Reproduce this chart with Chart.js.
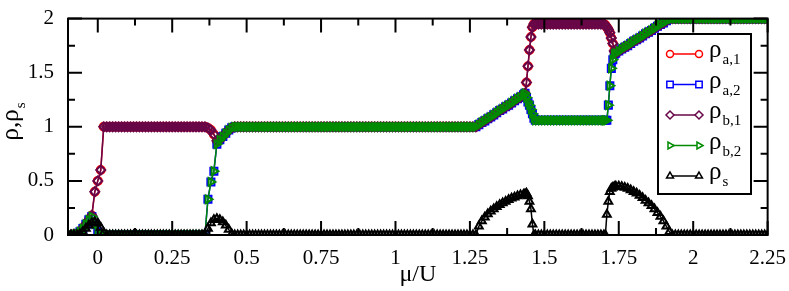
<!DOCTYPE html>
<html>
<head>
<meta charset="utf-8">
<script src="https://cdn.jsdelivr.net/npm/chart.js@4.4.0/dist/chart.umd.min.js"></script>
<style>
  html, body { margin: 0; padding: 0; background: #fff; }
  #wrap { width: 789px; height: 291px; position: relative; }
  #err { position: absolute; left: 100px; top: 60px; font: 12px monospace; color: #c00; }
  #probe { position: absolute; left: 0; top: 300px; font-family: "Liberation Serif"; font-size: 21px; }
</style>
</head>
<body>
<div id="wrap"><canvas id="rhoChart"></canvas><div id="err"></div></div>
<div id="probe">ρ,ρs μ/U 0.25 a,1</div>
<script>
// mu/U grid (finer steps at the jumps)
const mu = [
  -0.10,-0.09,-0.08,-0.07,-0.06,-0.05,-0.04,-0.03,-0.02,-0.01,0,0.01,0.02,
  0.03,0.04,0.05,0.06,0.07,0.08,0.09,0.10,0.11,0.12,0.13,0.14,0.15,0.16,0.17,0.18,0.19,0.20,0.21,0.22,0.23,0.24,0.25,0.26,0.27,0.28,0.29,0.30,0.31,0.32,0.33,0.34,0.35,
  0.36,0.37,0.38,0.39,0.40,0.41,0.42,0.43,0.44,0.45,0.46,
  0.47,0.48,0.49,0.50,0.51,0.52,0.53,0.54,0.55,0.56,
  0.57,0.58,0.59,0.60,0.61,0.62,0.63,0.64,0.65,0.66,
  0.67,0.68,0.69,0.70,0.71,0.72,0.73,0.74,0.75,0.76,
  0.77,0.78,0.79,0.80,0.81,0.82,0.83,0.84,0.85,0.86,
  0.87,0.88,0.89,0.90,0.91,0.92,0.93,0.94,0.95,0.96,
  0.97,0.98,0.99,1.00,1.01,1.02,1.03,1.04,1.05,1.06,
  1.07,1.08,1.09,1.10,1.11,1.12,1.13,1.14,1.15,1.16,
  1.17,1.18,1.19,1.20,1.21,1.22,1.23,1.24,1.25,1.26,
  1.27,1.28,1.29,1.30,1.31,1.32,1.33,1.34,1.35,1.36,1.37,1.38,1.39,1.40,1.41,1.42,1.43,
  1.435,1.44,1.445,1.45,1.455,1.46,1.465,1.47,
  1.48,1.49,1.50,1.51,1.52,1.53,1.54,1.55,1.56,1.57,1.58,1.59,1.60,1.61,1.62,1.63,1.64,1.65,1.66,1.67,1.68,1.69,1.70,
  1.705,1.71,1.715,1.72,1.725,1.73,1.735,1.74,
  1.75,1.76,1.77,1.78,1.79,1.80,1.81,1.82,1.83,1.84,1.85,1.86,1.87,1.88,1.89,1.90,1.91,1.92,
  1.93,1.94,1.95,1.96,1.97,1.98,1.99,2.00,2.01,2.02,2.03,2.04,2.05,2.06,2.07,2.08,2.09,2.10,2.11,2.12,2.13,2.14,2.15,2.16,2.17,2.18,2.19,2.20,2.21,2.22,2.23,2.24,2.25
];

const rhoA1 = [
  0,0,0.005,0.01,0.03,0.06,0.10,0.14,0.18,0.40,0.50,0.60,1.0,
  1,1,1,1,1,1,1,1,1,1,1,1,1,1,1,1,1,1,1,1,1,1,1,1,1,1,1,1,1,1,1,1,1,
  1.0,0.99,0.97,0.93,0.87,0.88,0.91,0.94,0.97,0.99,1.0,
  1,1,1,1,1,1,1,1,1,1,
  1,1,1,1,1,1,1,1,1,1,
  1,1,1,1,1,1,1,1,1,1,
  1,1,1,1,1,1,1,1,1,1,
  1,1,1,1,1,1,1,1,1,1,
  1,1,1,1,1,1,1,1,1,1,
  1,1,1,1,1,1,1,1,1,1,
  1,1,1,1,1,1,1,1,1,1,
  1.0,1.02,1.04,1.055,1.075,1.09,1.11,1.13,1.15,1.165,1.185,1.20,1.22,1.24,1.26,1.275,1.295,
  1.31,1.41,1.56,1.71,1.83,1.92,1.95,1.95,
  1.95,1.95,1.95,1.95,1.95,1.95,1.95,1.95,1.95,1.95,1.95,1.95,1.95,1.95,1.95,1.95,1.95,1.95,1.95,1.95,1.95,1.95,1.95,
  1.94,1.92,1.90,1.87,1.82,1.77,1.70,1.68,
  1.70,1.72,1.735,1.75,1.77,1.79,1.805,1.82,1.84,1.86,1.875,1.89,1.91,1.93,1.945,1.96,1.98,2.0,
  2,2,2,2,2,2,2,2,2,2,2,2,2,2,2,2,2,2,2,2,2,2,2,2,2,2,2,2,2,2,2,2,2
];

const rhoA2 = [
  0,0,0.005,0.01,0.03,0.06,0.10,0.14,0.17,0.10,0.03,0,0,
  0,0,0,0,0,0,0,0,0,0,0,0,0,0,0,0,0,0,0,0,0,0,0,0,0,0,0,0,0,0,0,0,0,
  0,0.33,0.49,0.59,0.84,0.88,0.91,0.94,0.97,0.99,1.0,
  1,1,1,1,1,1,1,1,1,1,
  1,1,1,1,1,1,1,1,1,1,
  1,1,1,1,1,1,1,1,1,1,
  1,1,1,1,1,1,1,1,1,1,
  1,1,1,1,1,1,1,1,1,1,
  1,1,1,1,1,1,1,1,1,1,
  1,1,1,1,1,1,1,1,1,1,
  1,1,1,1,1,1,1,1,1,1,
  1.0,1.02,1.04,1.055,1.075,1.09,1.11,1.13,1.15,1.165,1.185,1.20,1.22,1.24,1.26,1.275,1.295,
  1.31,1.27,1.23,1.20,1.16,1.12,1.08,1.06,
  1.06,1.06,1.06,1.06,1.06,1.06,1.06,1.06,1.06,1.06,1.06,1.06,1.06,1.06,1.06,1.06,1.06,1.06,1.06,1.06,1.06,1.06,1.06,
  1.06,1.06,1.20,1.38,1.54,1.62,1.67,1.68,
  1.70,1.72,1.735,1.75,1.77,1.79,1.805,1.82,1.84,1.86,1.875,1.89,1.91,1.93,1.945,1.96,1.98,2.0,
  2,2,2,2,2,2,2,2,2,2,2,2,2,2,2,2,2,2,2,2,2,2,2,2,2,2,2,2,2,2,2,2,2
];

// the b-species lie on top of the a-species
const rhoB1 = rhoA1.slice();
const rhoB2 = rhoA2.slice();

const rhoS = [
  0,0,0,0,0.01,0.03,0.06,0.09,0.11,0.12,0.11,0.07,0.02,
  0,0,0,0,0,0,0,0,0,0,0,0,0,0,0,0,0,0,0,0,0,0,0,0,0,0,0,0,0,0,0,0,0,
  0,0.06,0.11,0.14,0.15,0.14,0.12,0.09,0.05,0.01,0,
  0,0,0,0,0,0,0,0,0,0,
  0,0,0,0,0,0,0,0,0,0,
  0,0,0,0,0,0,0,0,0,0,
  0,0,0,0,0,0,0,0,0,0,
  0,0,0,0,0,0,0,0,0,0,
  0,0,0,0,0,0,0,0,0,0,
  0,0,0,0,0,0,0,0,0,0,
  0,0,0,0,0,0,0,0,0,0,
  0,0.08,0.13,0.165,0.195,0.22,0.24,0.26,0.28,0.295,0.31,0.325,0.34,0.35,0.36,0.37,0.375,
  0.38,0.385,0.36,0.31,0.24,0.10,0,0,
  0,0,0,0,0,0,0,0,0,0,0,0,0,0,0,0,0,0,0,0,0,0,0,
  0,0.19,0.31,0.40,0.43,0.44,0.445,0.45,
  0.45,0.445,0.44,0.43,0.415,0.40,0.385,0.365,0.345,0.32,0.295,0.27,0.24,0.205,0.17,0.13,0.08,0.03,
  0,0,0,0,0,0,0,0,0,0,0,0,0,0,0,0,0,0,0,0,0,0,0,0,0,0,0,0,0,0,0,0,0
];

const xTicks = [0, 0.25, 0.5, 0.75, 1, 1.25, 1.5, 1.75, 2, 2.25];
const xMinor = [0.125, 0.375, 0.625, 0.875, 1.125, 1.375, 1.625, 1.875, 2.125];
const yTicks = [0, 0.5, 1, 1.5, 2];
const yMinor = [0.25, 0.75, 1.25, 1.75];

const legendLabels = ['a,1', 'a,2', 'b,1', 'b,2', 's'];

const SERIF = '"Liberation Serif", "Times New Roman", serif';

function series(vals) {
  return mu.map((m, i) => ({ x: m, y: vals[i] }));
}

const styles = [
  { color: 'rgb(255,0,0)', shape: 'circle', r: 4, rot: 0 },
  { color: 'rgb(0,0,255)', shape: 'rect', r: 5, rot: 0 },
  { color: 'rgb(103,7,72)', shape: 'rectRot', r: 4.5, rot: 0 },
  { color: 'rgb(0,139,0)', shape: 'triangle', r: 4.5, rot: 90 },
  { color: 'rgb(0,0,0)', shape: 'triangle', r: 4.5, rot: 0 }
];
const allSeries = [rhoA1, rhoA2, rhoB1, rhoB2, rhoS];

const datasets = allSeries.map((vals, k) => ({
  data: series(vals),
  borderColor: styles[k].color,
  borderWidth: 1.5,
  pointStyle: styles[k].shape,
  pointRadius: styles[k].r,
  pointRotation: styles[k].rot,
  pointBorderColor: styles[k].color,
  pointBackgroundColor: 'rgba(0,0,0,0)',
  pointBorderWidth: 2,
  tension: 0,
  order: 5 - k
}));

function marker(ctx, st, x, y) {
  const r = st.r - 0.5;
  ctx.beginPath();
  if (st.shape === 'circle') {
    ctx.arc(x, y, r, 0, Math.PI * 2);
  } else if (st.shape === 'rect') {
    const s = r * Math.SQRT1_2;
    ctx.rect(x - s, y - s, 2 * s, 2 * s);
  } else if (st.shape === 'rectRot') {
    ctx.moveTo(x - r, y); ctx.lineTo(x, y - r); ctx.lineTo(x + r, y); ctx.lineTo(x, y + r); ctx.closePath();
  } else {
    const a0 = (st.rot - 90) * Math.PI / 180;
    for (let i = 0; i < 3; i++) {
      const a = a0 + i * 2 * Math.PI / 3;
      const px = x + r * Math.cos(a), py = y + r * Math.sin(a);
      if (i === 0) ctx.moveTo(px, py); else ctx.lineTo(px, py);
    }
    ctx.closePath();
  }
  ctx.fillStyle = '#fff';
  ctx.fill();
  ctx.stroke();
}

function drawDecorations(chart) {
  const ctx = chart.ctx;
  const a = chart.chartArea;
  const x = chart.scales.x, y = chart.scales.y;
  ctx.save();
  ctx.strokeStyle = '#000';
  ctx.lineWidth = 2;
  ctx.strokeRect(a.left, a.top, a.right - a.left, a.bottom - a.top);

  ctx.beginPath();
  const tx = (v, len) => {
    const p = x.getPixelForValue(v);
    ctx.moveTo(p, a.bottom); ctx.lineTo(p, a.bottom - len);
    ctx.moveTo(p, a.top); ctx.lineTo(p, a.top + len);
  };
  const ty = (v, len) => {
    const p = y.getPixelForValue(v);
    ctx.moveTo(a.left, p); ctx.lineTo(a.left + len, p);
    ctx.moveTo(a.right, p); ctx.lineTo(a.right - len, p);
  };
  xTicks.forEach(v => tx(v, 14));
  xMinor.forEach(v => tx(v, 7));
  yTicks.forEach(v => ty(v, 14));
  yMinor.forEach(v => ty(v, 7));
  ctx.stroke();

  // legend
  const bx = 658, by = 34, bw = 93, bh = 160;
  ctx.fillStyle = '#fff';
  ctx.fillRect(bx, by, bw, bh);
  ctx.strokeRect(bx, by, bw, bh);
  legendLabels.forEach((lab, k) => {
    const st = styles[k];
    const ry = 54 + k * 30.5;
    ctx.strokeStyle = st.color;
    ctx.lineWidth = 1.5;
    ctx.beginPath();
    ctx.moveTo(670, ry); ctx.lineTo(699, ry);
    ctx.stroke();
    marker(ctx, st, 670, ry);
    marker(ctx, st, 699, ry);
    ctx.fillStyle = '#000';
    ctx.textBaseline = 'alphabetic';
    ctx.textAlign = 'left';
    ctx.font = '25px ' + SERIF;
    ctx.fillText('ρ', 709, ry + 3);
    const w = ctx.measureText('ρ').width;
    ctx.font = '15px ' + SERIF;
    ctx.fillText(lab, 709 + w + 1, ry + 10);
  });

  // y-axis title with subscript
  ctx.translate(18, 122);
  ctx.rotate(-Math.PI / 2);
  ctx.fillStyle = '#000';
  ctx.textAlign = 'left';
  ctx.textBaseline = 'alphabetic';
  ctx.font = '25px ' + SERIF;
  const mw = ctx.measureText('ρ,ρ').width;
  ctx.font = '15px ' + SERIF;
  const sw = ctx.measureText('s').width;
  const x0 = -(mw + sw) / 2;
  ctx.font = '25px ' + SERIF;
  ctx.fillText('ρ,ρ', x0, 0);
  ctx.font = '15px ' + SERIF;
  ctx.fillText('s', x0 + mw + 1, 7);
  ctx.restore();
}

const decorations = {
  id: 'decorations',
  afterDraw(chart) {
    try {
      drawDecorations(chart);
    } catch (e) {
      document.getElementById('err').textContent = String(e);
    }
  }
};

function drawChart() {
  try {
    new Chart(document.getElementById('rhoChart'), {
      type: 'line',
      data: { datasets },
      options: {
        responsive: true,
        maintainAspectRatio: false,
        animation: false,
        devicePixelRatio: 1,
        layout: { padding: { top: 10, right: 21, left: 0, bottom: 0 } },
        plugins: { legend: { display: false }, tooltip: { enabled: false } },
        scales: {
          x: {
            type: 'linear',
            min: -0.1,
            max: 2.25,
            afterBuildTicks: s => { s.ticks = xTicks.map(v => ({ value: v })); },
            afterFit: s => { s.height = 56; },
            grid: { display: false },
            border: { display: false },
            ticks: {
              autoSkip: false,
              maxRotation: 0,
              padding: 3,
              color: '#000',
              font: { family: SERIF, size: 21 },
              callback: v => String(v)
            },
            title: {
              display: true,
              text: 'μ/U',
              color: '#000',
              font: { family: SERIF, size: 24 },
              padding: { top: 0, bottom: 2 }
            }
          },
          y: {
            min: 0,
            max: 2,
            afterBuildTicks: s => { s.ticks = yTicks.map(v => ({ value: v })); },
            afterFit: s => { s.width = 68; },
            grid: { display: false },
            border: { display: false },
            ticks: {
              padding: 6,
              color: '#000',
              font: { family: SERIF, size: 21 },
              callback: v => String(v)
            }
          }
        }
      },
      plugins: [decorations]
    });
  } catch (e) {
    document.getElementById('err').textContent = String(e);
  }
}

const fontsReady = document.fonts
  ? Promise.all([
      document.fonts.load('21px "Liberation Serif"', '0.25'),
      document.fonts.load('25px "Liberation Serif"', 'ρμ')
    ]).then(() => document.fonts.ready)
  : Promise.resolve();
fontsReady.then(drawChart, drawChart);
</script>
</body>
</html>
